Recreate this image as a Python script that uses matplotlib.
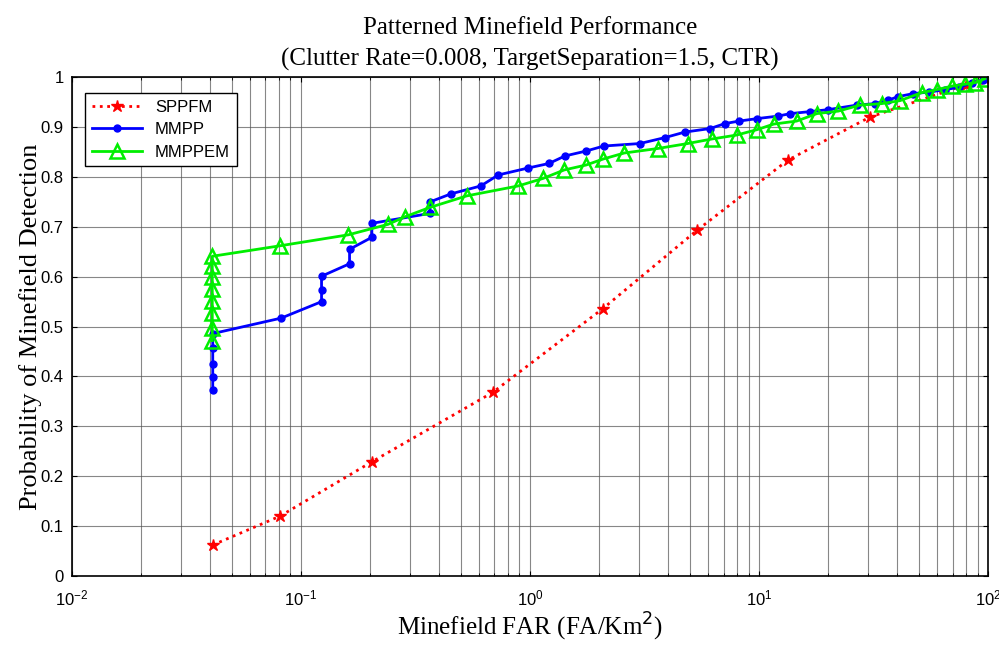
import numpy as np
import matplotlib
matplotlib.use("Agg")
import matplotlib.pyplot as plt
from matplotlib.ticker import LogLocator, NullFormatter

# SPPFM
far_sppfm = [0.0411, 0.081, 0.204, 0.687, 2.08, 5.36, 13.4, 30.5, 80.0, 97.0]
pd_sppfm = [0.062, 0.120, 0.229, 0.368, 0.536, 0.693, 0.834, 0.920, 0.985, 0.997]

# MMPP
far_mmpp = [0.0412, 0.0412, 0.0412, 0.0412, 0.0412, 0.0819, 0.123, 0.123, 0.123,
            0.163, 0.163, 0.204, 0.204, 0.366, 0.366, 0.451, 0.61, 0.727, 0.983,
            1.21, 1.42, 1.76, 2.10, 3.02, 3.89, 4.75, 6.11, 7.10, 8.18, 9.83,
            12.1, 13.7, 16.7, 20.1, 26.7, 32.1, 36.7, 40.5, 47.0, 55.0, 65.0,
            75.0, 85.0, 95.0]
pd_mmpp = [0.373, 0.399, 0.425, 0.458, 0.486, 0.517, 0.550, 0.573, 0.601,
           0.626, 0.655, 0.679, 0.707, 0.727, 0.750, 0.766, 0.782, 0.804, 0.818,
           0.827, 0.842, 0.852, 0.862, 0.867, 0.879, 0.890, 0.897, 0.907, 0.912,
           0.917, 0.922, 0.927, 0.931, 0.935, 0.944, 0.947, 0.954, 0.961, 0.967,
           0.970, 0.975, 0.980, 0.988, 0.995]

# MMPPEM
far_mmppem = [0.041, 0.041, 0.041, 0.041, 0.041, 0.041, 0.041, 0.041, 0.081,
              0.161, 0.240, 0.284, 0.366, 0.529, 0.889, 1.14, 1.41, 1.76, 2.09,
              2.58, 3.61, 4.88, 6.21, 7.99, 9.83, 11.6, 14.6, 17.9, 22.2, 27.6,
              34.3, 41.3, 51.3, 59.7, 69.4, 79.4, 87.8, 97.0]
pd_mmppem = [0.472, 0.497, 0.527, 0.552, 0.576, 0.599, 0.621, 0.641, 0.662,
             0.684, 0.705, 0.720, 0.739, 0.762, 0.782, 0.797, 0.814, 0.824, 0.836,
             0.848, 0.857, 0.867, 0.876, 0.884, 0.895, 0.906, 0.912, 0.927, 0.932,
             0.944, 0.947, 0.953, 0.969, 0.975, 0.982, 0.986, 0.989, 0.997]

serif = ["Liberation Serif", "DejaVu Serif"]
sans = ["Liberation Sans", "DejaVu Sans"]

fig = plt.figure(figsize=(9.99, 6.47), dpi=100)
ax = fig.add_axes([0.072, 0.1097, 0.917, 0.771])

ax.plot(far_sppfm, pd_sppfm, color="red", linestyle=":", linewidth=2,
        marker="*", markersize=9, label="SPPFM")
ax.plot(far_mmpp, pd_mmpp, color="blue", linestyle="-", linewidth=2,
        marker=".", markersize=10, label="MMPP")
ax.plot(far_mmppem, pd_mmppem, color="#00ee00", linestyle="-", linewidth=2,
        marker="^", markersize=10, markerfacecolor="none", markeredgewidth=1.8,
        label="MMPPEM")

ax.set_xscale("log")
ax.set_xlim(1e-2, 1e2)
ax.set_ylim(0, 1)
ax.set_yticks(np.arange(0, 1.01, 0.1))
ax.set_yticklabels(["0", "0.1", "0.2", "0.3", "0.4", "0.5", "0.6", "0.7", "0.8", "0.9", "1"])
ax.xaxis.set_minor_locator(LogLocator(base=10, subs=np.arange(2, 10)))
ax.xaxis.set_minor_formatter(NullFormatter())

ax.grid(True, which="major", color="#555555", linewidth=0.8, alpha=0.7)
ax.grid(True, which="minor", axis="x", color="#555555", linewidth=0.8, alpha=0.7)
ax.tick_params(which="both", direction="in", top=True, right=True, labelsize=12)
ax.tick_params(axis="x", pad=9)
ax.tick_params(axis="y", pad=6)
for lbl in ax.get_xticklabels() + ax.get_yticklabels():
    lbl.set_family(sans)
for sp in ax.spines.values():
    sp.set_linewidth(1.2)

ax.set_title("Patterned Minefield Performance\n(Clutter Rate=0.008, TargetSeparation=1.5, CTR)",
             fontsize=18, family=serif, linespacing=1.55, pad=8)
ax.set_xlabel("Minefield FAR (FA/Km$^2$)", fontsize=18, family=serif, labelpad=2)
ax.set_ylabel("Probability of Minefield Detection", fontsize=19, family=serif, labelpad=-1)

leg = ax.legend(loc="upper left", prop={"family": sans, "size": 12}, fancybox=False,
                edgecolor="black", framealpha=1, handlelength=3, borderpad=0.4,
                labelspacing=0.45, bbox_to_anchor=(0.005, 0.985))
leg.get_frame().set_linewidth(1.0)

fig.savefig("out.png", dpi=100)
